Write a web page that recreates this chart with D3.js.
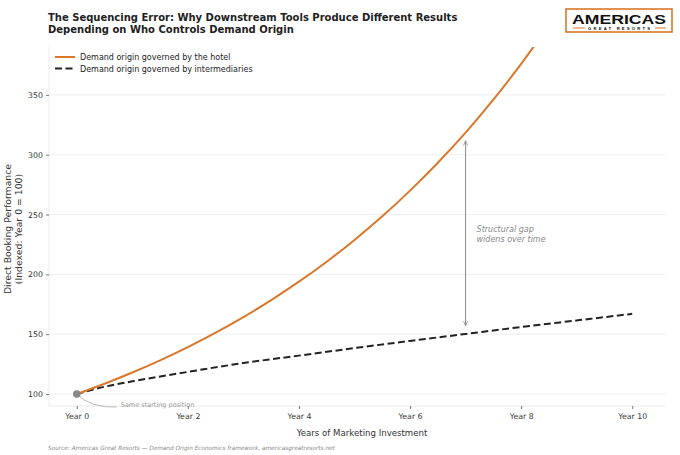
<!DOCTYPE html>
<html>
<head>
<meta charset="utf-8">
<script src="https://cdn.jsdelivr.net/npm/d3@7"></script>
<style>
  body { margin: 0; background: #fff; }
  svg { font-family: "DejaVu Sans", sans-serif; }
</style>
</head>
<body>
<div id="chart"></div>
<script>
// Values.
const hotelYears = [0, 0.5, 1, 1.5, 2, 2.5, 3, 3.5, 4, 4.5, 5, 5.5, 6, 6.5, 7, 7.5, 8, 8.5, 9];
const hotelValues = [100, 108.6, 118, 128.2, 139.2, 151.3, 164.3, 178.5, 193.9, 210.6, 228.8,
  248.5, 270, 293.3, 318.5, 346, 375.9, 408.3, 443.5];
const interYears = [0, 0.5, 1, 2, 3, 4, 5, 6, 7, 8, 9, 10];
const interValues = [100, 106.1, 110.6, 118.5, 125.9, 132.1, 138.4, 144.4, 150.2, 156, 161.5, 167];
const yTicks = [100, 150, 200, 250, 300, 350];
const xTicks = [0, 2, 4, 6, 8, 10];
const seriesNames = ["Demand origin governed by the hotel", "Demand origin governed by intermediaries"];
const gapYear = 7;

const W = 680, H = 455;
const m = { left: 49, right: 665, top: 47, bottom: 406 };
const orange = "#d9772b";

const svg = d3.select("#chart").append("svg").attr("width", W).attr("height", H);

const x = d3.scaleLinear().domain([-0.5, 10.5]).range([m.left, 660]);
const y = d3.scaleLinear().domain([90, 390]).range([m.bottom, m.top]);

// grid
svg.append("g").selectAll("line").data(yTicks).join("line")
  .attr("x1", m.left).attr("x2", m.right)
  .attr("y1", d => y(d)).attr("y2", d => y(d))
  .attr("stroke", "#ebebeb").attr("stroke-width", 0.8);

// spines
svg.append("line").attr("x1", m.left).attr("x2", m.left).attr("y1", m.top).attr("y2", m.bottom)
  .attr("stroke", "#e6e6e6").attr("stroke-width", 0.8);
svg.append("line").attr("x1", m.left).attr("x2", m.right).attr("y1", m.bottom).attr("y2", m.bottom)
  .attr("stroke", "#e6e6e6").attr("stroke-width", 0.8);

// axes
const yAxis = svg.append("g").attr("transform", `translate(${m.left},0)`)
  .call(d3.axisLeft(y).tickValues(yTicks).tickSize(3).tickPadding(3));
const xAxis = svg.append("g").attr("transform", `translate(0,${m.bottom})`)
  .call(d3.axisBottom(x).tickValues(xTicks).tickSize(3).tickPadding(4).tickFormat(d => "Year " + d));
[yAxis, xAxis].forEach(a => {
  a.select(".domain").remove();
  a.selectAll(".tick line").attr("stroke", "#555").attr("stroke-width", 0.8);
  a.selectAll(".tick text").attr("fill", "#333").style("font-size", "7.8px")
    .style("font-family", "DejaVu Sans, sans-serif");
});

// clip
svg.append("clipPath").attr("id", "clip").append("rect")
  .attr("x", m.left).attr("y", m.top).attr("width", m.right - m.left).attr("height", m.bottom - m.top);

const line = d3.line().x(d => x(d[0])).y(d => y(d[1])).curve(d3.curveMonotoneX);
const hotel = hotelYears.map((t, i) => [t, hotelValues[i]]);
const inter = interYears.map((t, i) => [t, interValues[i]]);

svg.append("path").datum(inter).attr("clip-path", "url(#clip)")
  .attr("d", line).attr("fill", "none").attr("stroke", "#222")
  .attr("stroke-width", 2).attr("stroke-dasharray", "7,3.5");
svg.append("path").datum(hotel).attr("clip-path", "url(#clip)")
  .attr("d", line).attr("fill", "none").attr("stroke", orange).attr("stroke-width", 2);

// start point + annotation
svg.append("path")
  .attr("d", `M${x(0)},${y(100)} Q${x(0) + 14},${y(100) + 14} ${x(0) + 40},${y(100) + 13}`)
  .attr("fill", "none").attr("stroke", "#aaa").attr("stroke-width", 0.8);
svg.append("circle").attr("cx", x(0)).attr("cy", y(100)).attr("r", 3.8).attr("fill", "#888");
svg.append("text").attr("x", x(0) + 44).attr("y", y(100) + 13)
  .attr("fill", "#999").style("font-size", "6.5px").text("Same starting position");

// gap arrow
const gapTop = y(hotelValues[hotelYears.indexOf(gapYear)]) + 8;
const gapBot = y(interValues[interYears.indexOf(gapYear)]) - 8;
const defs = svg.append("defs");
defs.append("marker").attr("id", "ah").attr("viewBox", "0 0 10 10").attr("refX", 10).attr("refY", 5)
  .attr("markerWidth", 5).attr("markerHeight", 5).attr("orient", "auto-start-reverse")
  .append("path").attr("d", "M0,1 L10,5 L0,9").attr("fill", "none").attr("stroke", "#888").attr("stroke-width", 1.5);
svg.append("line").attr("x1", x(gapYear)).attr("x2", x(gapYear)).attr("y1", gapTop).attr("y2", gapBot)
  .attr("stroke", "#888").attr("stroke-width", 1)
  .attr("marker-start", "url(#ah)").attr("marker-end", "url(#ah)");
const gapText = svg.append("text").attr("x", x(gapYear) + 11).attr("y", 232)
  .attr("fill", "#888").style("font-size", "8px").style("font-style", "italic");
gapText.append("tspan").attr("x", x(gapYear) + 11).text("Structural gap");
gapText.append("tspan").attr("x", x(gapYear) + 11).attr("dy", 10).text("widens over time");

// legend
const leg = svg.append("g").attr("transform", "translate(55,57)");
seriesNames.forEach((name, i) => {
  const g = leg.append("g").attr("transform", `translate(0,${i * 11.5})`);
  g.append("line").attr("x1", 0).attr("x2", 20).attr("y1", 0).attr("y2", 0)
    .attr("stroke", i ? "#222" : orange).attr("stroke-width", 2)
    .attr("stroke-dasharray", i ? "7,3.5" : null);
  g.append("text").attr("x", 25).attr("y", 3).attr("fill", "#222").style("font-size", "8px").text(name);
});

// title
const title = svg.append("text").attr("x", 48).attr("y", 21).attr("fill", "#222")
  .style("font-size", "10px").style("font-weight", "bold");
title.append("tspan").attr("x", 48).text("The Sequencing Error: Why Downstream Tools Produce Different Results");
title.append("tspan").attr("x", 48).attr("dy", 12).text("Depending on Who Controls Demand Origin");

// axis labels
svg.append("text").attr("x", 362).attr("y", 436).attr("text-anchor", "middle")
  .attr("fill", "#333").style("font-size", "8.6px").text("Years of Marketing Investment");
const yl = svg.append("text").attr("transform", "translate(11,229) rotate(-90)")
  .attr("text-anchor", "middle").attr("fill", "#333").style("font-size", "9.3px");
yl.append("tspan").attr("x", 0).text("Direct Booking Performance");
yl.append("tspan").attr("x", 0).attr("dy", 10.5).text("(Indexed: Year 0 = 100)");

// source
svg.append("text").attr("x", 48).attr("y", 450).attr("fill", "#888")
  .style("font-size", "5.75px").style("font-style", "italic")
  .text("Source: Americas Great Resorts \u2014 Demand Origin Economics framework. americasgreatresorts.net");

// logo
const logo = svg.append("g").attr("transform", "translate(566,9)");
logo.append("rect").attr("width", 106).attr("height", 23).attr("fill", "#fff")
  .attr("stroke", orange).attr("stroke-width", 1.6);
logo.append("text").attr("x", 53).attr("y", 14.5).attr("text-anchor", "middle")
  .attr("fill", "#111").style("font-size", "13.5px").style("font-weight", "bold")
  .style("font-family", "Liberation Sans, Arial, sans-serif").attr("textLength", 94)
  .attr("lengthAdjust", "spacingAndGlyphs").text("AMERICAS");
logo.append("line").attr("x1", 7).attr("x2", 19).attr("y1", 19).attr("y2", 19).attr("stroke", orange).attr("stroke-width", 1);
logo.append("line").attr("x1", 89).attr("x2", 100).attr("y1", 19).attr("y2", 19).attr("stroke", orange).attr("stroke-width", 1);
logo.append("text").attr("x", 53).attr("y", 21.2).attr("text-anchor", "middle")
  .attr("fill", "#111").style("font-size", "4.2px").style("font-weight", "bold")
  .style("font-family", "Liberation Sans, Arial, sans-serif").attr("textLength", 62)
  .attr("lengthAdjust", "spacing").text("GREAT RESORTS");
</script>
</body>
</html>
